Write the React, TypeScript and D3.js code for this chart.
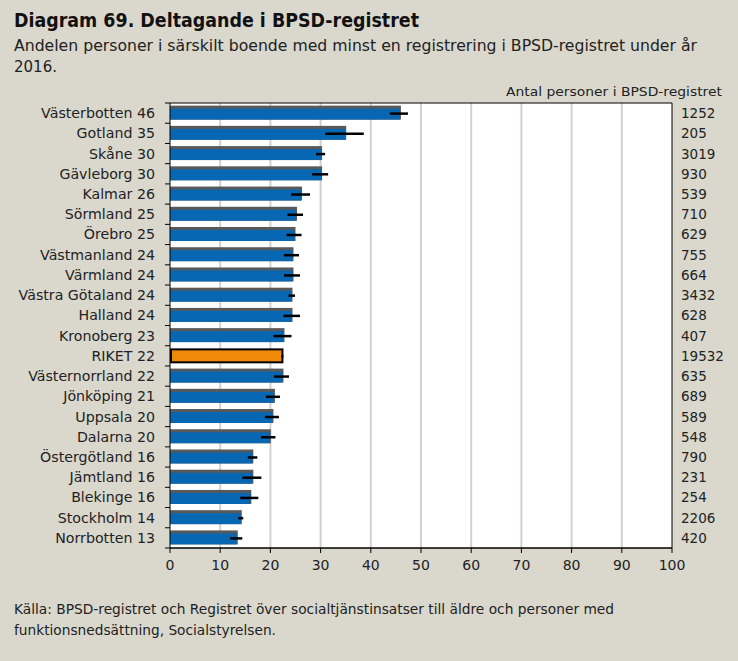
import React from "react";
import * as d3 from "d3";

const regions = ["Västerbotten","Gotland","Skåne","Gävleborg","Kalmar","Sörmland","Örebro","Västmanland","Värmland","Västra Götaland","Halland","Kronoberg","RIKET","Västernorrland","Jönköping","Uppsala","Dalarna","Östergötland","Jämtland","Blekinge","Stockholm","Norrbotten"];
const shares = [45.8,34.9,30.1,30.1,26.1,25.1,24.8,24.4,24.4,24.2,24.2,22.6,22.4,22.4,20.7,20.4,19.9,16.4,16.4,16.0,14.1,13.3];
const lows = [43.8,30.9,29.1,28.3,24.1,23.4,23.2,22.7,22.7,23.6,22.6,20.6,22.2,20.7,19.1,18.9,18.1,15.5,14.4,14.0,13.6,12.0];
const highs = [47.4,38.6,30.9,31.5,27.9,26.5,26.2,25.7,25.9,24.9,25.9,24.2,22.6,23.7,21.9,21.7,21.0,17.4,18.2,17.6,14.6,14.4];
const counts = ["1252","205","3019","930","539","710","629","755","664","3432","628","407","19532","635","689","589","548","790","231","254","2206","420"];
const xTicks = [0,10,20,30,40,50,60,70,80,90,100];

const W = 738, H = 661;
const L = 170, R = 672, T = 103, B = 548;
const FONT = "'DejaVu Sans', sans-serif";

export default function App() {
  const x = d3.scaleLinear().domain([0, 100]).range([L, R]);
  const y = d3.scaleBand<string>().domain(regions).range([T, B]).paddingInner(0.36).paddingOuter(0.18);
  const step = y.step();
  const bh = y.bandwidth();
  return (
    <svg width={W} height={H} style={{ position: "absolute", left: 0, top: 0, fontFamily: FONT }}>
      <rect x={0} y={0} width={W} height={H} fill="#dad8cd" />
      <text x={14} y={27} fontSize={19} fontWeight="bold" fill="#111" textLength={405} lengthAdjust="spacingAndGlyphs">Diagram 69. Deltagande i BPSD-registret</text>
      <text x={14} y={51} fontSize={15} fill="#222" textLength={683} lengthAdjust="spacingAndGlyphs">Andelen personer i särskilt boende med minst en registrering i BPSD-registret under år</text>
      <text x={14} y={72} fontSize={15} fill="#222">2016.</text>
      <text x={722} y={96} fontSize={13} fill="#222" textAnchor="end" textLength={216} lengthAdjust="spacingAndGlyphs">Antal personer i BPSD-registret</text>
      <rect x={L} y={T} width={R - L} height={B - T} fill="#fff" />
      {xTicks.slice(1, -1).map(t => (
        <line key={"g" + t} x1={x(t)} x2={x(t)} y1={T} y2={B} stroke="#d2d0ca" strokeWidth={2} />
      ))}
      {regions.map((r, i) => {
        const yy = y(r)!;
        const isRiket = r === "RIKET";
        const cy = yy + bh / 2;
        return (
          <g key={r}>
            {isRiket ? (
              <rect x={x(0) + 1} y={yy} width={x(shares[i]) - x(0) - 1} height={bh} fill="#f0890a" stroke="#000" strokeWidth={2} />
            ) : (
              <g>
                <rect x={x(0)} y={yy - 1} width={x(shares[i]) - x(0) + 1} height={bh + 1} fill="#58595b" />
                <rect x={x(0)} y={yy + 2} width={x(shares[i]) - x(0)} height={bh - 2} fill="#0867b3" />
              </g>
            )}
            <line x1={x(lows[i])} x2={x(highs[i])} y1={cy + 0.5} y2={cy + 0.5} stroke="#000" strokeWidth={2.5} />
            <text x={155} y={cy + 5} fontSize={14.2} textAnchor="end" fill="#222">{r + " " + Math.round(shares[i])}</text>
            <text x={681} y={cy + 5} fontSize={13.5} fill="#222">{counts[i]}</text>
          </g>
        );
      })}
      {d3.range(regions.length + 1).map(k => (
        <line key={"t" + k} x1={L - 5} x2={L} y1={T + k * step} y2={T + k * step} stroke="#000" strokeWidth={1} />
      ))}
      <line x1={L} x2={R} y1={T} y2={T} stroke="#000" strokeWidth={1} />
      <line x1={R} x2={R} y1={T} y2={B} stroke="#000" strokeWidth={1} />
      <line x1={L} x2={L} y1={T} y2={B} stroke="#000" strokeWidth={1} />
      <line x1={L} x2={R} y1={B} y2={B} stroke="#000" strokeWidth={1.5} />
      {xTicks.map(t => (
        <g key={"x" + t}>
          <line x1={x(t)} x2={x(t)} y1={B} y2={B + 5} stroke="#000" />
          <text x={x(t)} y={B + 22} fontSize={14} textAnchor="middle" fill="#222">{t}</text>
        </g>
      ))}
      <text x={14} y={614} fontSize={14} fill="#222" textLength={600} lengthAdjust="spacingAndGlyphs">Källa: BPSD-registret och Registret över socialtjänstinsatser till äldre och personer med</text>
      <text x={14} y={635} fontSize={14} fill="#222" textLength={262} lengthAdjust="spacingAndGlyphs">funktionsnedsättning, Socialstyrelsen.</text>
    </svg>
  );
}
